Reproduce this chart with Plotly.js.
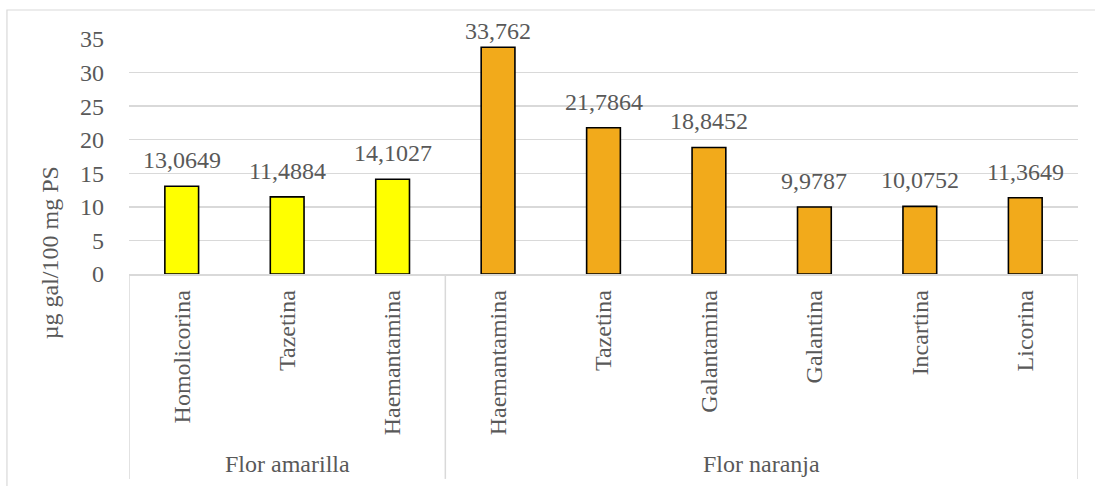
<!DOCTYPE html>
<html>
<head>
<meta charset="utf-8">
<script src="https://cdn.plot.ly/plotly-3.0.1.min.js"></script>
<style>
html,body{margin:0;padding:0;background:#fff;}
#chart{width:1095px;height:486px;}
</style>
</head>
<body>
<div id="chart"></div>
<script>
// Data
var compounds = ["Homolicorina","Tazetina","Haemantamina","Haemantamina","Tazetina","Galantamina","Galantina","Incartina","Licorina"];
var groups = ["Flor amarilla","Flor amarilla","Flor amarilla","Flor naranja","Flor naranja","Flor naranja","Flor naranja","Flor naranja","Flor naranja"];
var values = [13.0649, 11.4884, 14.1027, 33.762, 21.7864, 18.8452, 9.9787, 10.0752, 11.3649];
var groupNames = ["Flor amarilla","Flor naranja"];
var groupColors = {"Flor amarilla":"#FFFF00","Flor naranja":"#F2AA1B"};
var yTicks = [0,5,10,15,20,25,30,35];
var yTitle = "µg gal/100 mg PS";

var idx = compounds.map(function(_,i){return i;});
var labels = values.map(function(v){return String(v).replace('.', ',');});
var colors = groups.map(function(g){return groupColors[g];});

var FONT = "'Liberation Serif', 'Times New Roman', serif";
var GREY = "#595959";
var YMAX = 35, PLOT_H = 235, PLOT_T = 39;

var trace = {
  type:"bar",
  x: idx,
  y: values,
  width: 0.32,
  marker:{color:colors, line:{color:"#000000", width:1.6}},
  cliponaxis:false,
  hoverinfo:"none"
};

var shapes = [];
var annotations = [];
// data labels (kept inside the chart area like the original)
values.forEach(function(v, i){
  var barTopPx = PLOT_T + (YMAX - v) * PLOT_H / YMAX;
  var shift = Math.min(11, barTopPx - 16 - 30);
  annotations.push({xref:"x", yref:"y", x:i, y:v, text:labels[i], showarrow:false,
    xanchor:"center", yanchor:"bottom", yshift:shift, font:{family:FONT, size:24, color:GREY}});
});
// group boundaries & centers
var bottomY = -0.872;
shapes.push({type:"line", xref:"x", yref:"paper", x0:-0.5, x1:-0.5, y0:0, y1:bottomY, line:{color:"#D9D9D9", width:1.5}});
groupNames.forEach(function(g){
  var members = idx.filter(function(i){return groups[i]===g;});
  var last = members[members.length-1];
  var first = members[0];
  shapes.push({type:"line", xref:"x", yref:"paper", x0:last+0.5, x1:last+0.5, y0:0, y1:bottomY, line:{color:"#D9D9D9", width:1.5}});
  annotations.push({xref:"x", yref:"paper", x:(first+last)/2, y:-0.809, text:g, showarrow:false,
    xanchor:"center", yanchor:"middle", font:{family:FONT, size:24, color:GREY}});
});
// y axis title (centred over plot + category area, as in the original)
annotations.push({xref:"paper", yref:"paper", x:-0.083, y:0.089, text:yTitle, textangle:-90, showarrow:false,
  xanchor:"center", yanchor:"middle", font:{family:FONT, size:24, color:GREY}});
// outer chart border
shapes.push({type:"rect", xref:"paper", yref:"paper", x0:-0.1286, x1:1.05, y0:-0.95, y1:1.1234, line:{color:"#D9D9D9", width:1.2}, layer:"below"});

var layout = {
  width:1095, height:486,
  margin:{l:129, r:17, t:39, b:212, pad:0},
  paper_bgcolor:"#ffffff",
  plot_bgcolor:"#ffffff",
  showlegend:false,
  font:{family:FONT, size:24, color:GREY},
  xaxis:{
    range:[-0.5, compounds.length-0.5],
    tickmode:"array", tickvals:idx, ticktext:compounds,
    tickangle:-90, ticks:"", showgrid:false, zeroline:false,
    showline:true, linecolor:"#D9D9D9", linewidth:1.5,
    ticklabelstandoff:5,
    tickfont:{family:FONT, size:24, color:GREY},
    fixedrange:true
  },
  yaxis:{
    range:[0,YMAX], tickmode:"array", tickvals:yTicks, ticktext:yTicks.map(String),
    showgrid:true, gridcolor:"#D9D9D9", gridwidth:1.5,
    zeroline:false, showline:false, ticks:"",
    ticklabelstandoff:24,
    tickfont:{family:FONT, size:24, color:GREY},
    fixedrange:true
  },
  shapes:shapes,
  annotations:annotations
};

Plotly.newPlot("chart", [trace], layout, {displayModeBar:false, staticPlot:true});
</script>
</body>
</html>
